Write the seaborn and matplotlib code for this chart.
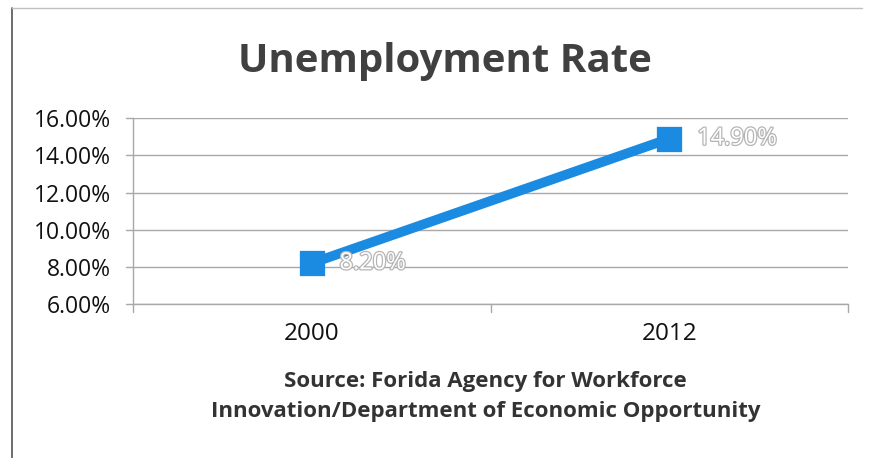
import matplotlib
matplotlib.use("Agg")
import matplotlib.pyplot as plt
import matplotlib.patheffects as pe
import seaborn as sns
import pandas as pd

years = ["2000", "2012"]
rates = [8.20, 14.90]
y_ticks = [6, 8, 10, 12, 14, 16]

sns.set_theme(style="white")
plt.rcParams["font.family"] = ["Open Sans", "DejaVu Sans"]

df = pd.DataFrame({"year": years, "rate": rates})

fig = plt.figure(figsize=(8.69, 4.58), dpi=100)
ax = fig.add_axes([0.153, 0.336, 0.823, 0.406])

line_blue = "#1a8be0"
sns.pointplot(data=df, x="year", y="rate", ax=ax, color=line_blue,
              marker="s", markersize=13, linewidth=7, errorbar=None)

ax.set_ylim(6, 16)
ax.set_xlim(-0.5, 1.5)
ax.set_yticks(y_ticks)
ax.set_yticklabels([f"{v:.2f}%" for v in y_ticks], fontsize=16.5, color="#111111")
ax.set_xticks([0, 1])
ax.set_xticklabels(years, fontsize=17.5, color="#111111")
ax.tick_params(axis="x", length=0, pad=13)
ax.tick_params(axis="y", length=0, pad=16)
ax.set_xlabel("")
ax.set_ylabel("")

grid_grey = "#a8a8a8"
ax.yaxis.grid(True, color=grid_grey, linewidth=1)
ax.axhline(6, color=grid_grey, linewidth=1, clip_on=False, zorder=0)
ax.set_axisbelow(True)
for side in ["top", "right", "bottom"]:
    ax.spines[side].set_visible(False)
ax.spines["left"].set_color(grid_grey)
ax.spines["left"].set_linewidth(1)

# small ticks: left of the value axis, and below at category boundaries
for v in y_ticks:
    ax.plot([-0.52, -0.5], [v, v], color=grid_grey, lw=1, clip_on=False)
for b in [-0.5, 0.5, 1.5]:
    ax.plot([b, b], [6, 5.6], color=grid_grey, lw=1, clip_on=False)

# data labels
for i, v in enumerate(rates):
    ax.annotate(f"{v:.2f}%", (i, v), xytext=(20, 0), textcoords="offset points",
                ha="left", va="center", fontsize=17, color="#ffffff",
                path_effects=[pe.withStroke(linewidth=1.8, foreground="#b5b5b5")])

fig.text(0.512, 0.865, "Unemployment Rate", ha="center", va="center",
         fontsize=29, fontweight="bold", color="#404040")
fig.text(0.559, 0.135, "Source: Forida Agency for Workforce\nInnovation/Department of Economic Opportunity",
         ha="center", va="center", fontsize=16, fontweight="bold",
         color="#333333", linespacing=1.55)

# chart frame edges
fig.add_artist(plt.Line2D([12 / 869, 12 / 869], [0, 1 - 8 / 458],
                          transform=fig.transFigure, color="#555555", lw=1.2))
fig.add_artist(plt.Line2D([12 / 869, 862 / 869], [1 - 8 / 458, 1 - 8 / 458],
                          transform=fig.transFigure, color="#c0c0c0", lw=1))

fig.savefig("out.png", dpi=100)
